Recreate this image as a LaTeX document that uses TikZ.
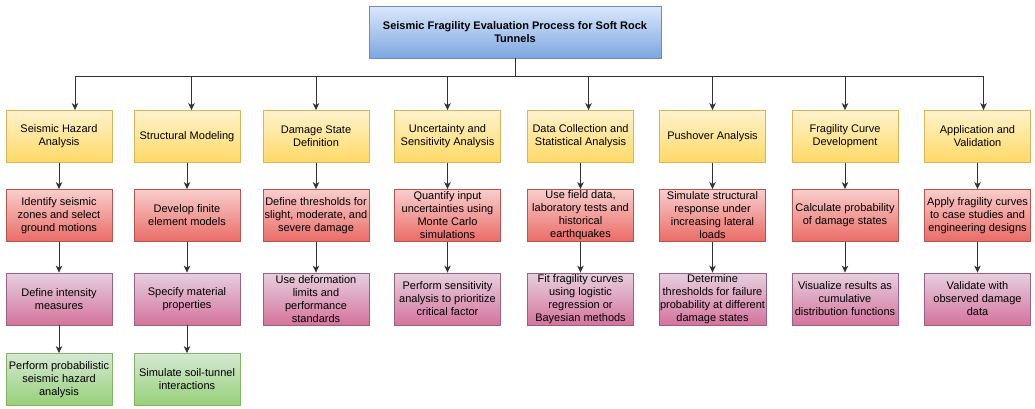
\documentclass[tikz,border=0pt]{standalone}
\usepackage{fontspec}
\setmainfont{Liberation Sans}
\usetikzlibrary{arrows.meta}
\definecolor{bTop}{HTML}{DAE8FC}\definecolor{bBot}{HTML}{7EA6E0}\definecolor{bStr}{HTML}{6C8EBF}
\definecolor{yTop}{HTML}{FFF2CC}\definecolor{yBot}{HTML}{FFD966}\definecolor{yStr}{HTML}{D6B656}
\definecolor{rTop}{HTML}{F8CECC}\definecolor{rBot}{HTML}{EA6B66}\definecolor{rStr}{HTML}{B85450}
\definecolor{pTop}{HTML}{E6D0DE}\definecolor{pBot}{HTML}{D5739D}\definecolor{pStr}{HTML}{996185}
\definecolor{gTop}{HTML}{D5E8D4}\definecolor{gBot}{HTML}{97D077}\definecolor{gStr}{HTML}{82B366}
\definecolor{lineC}{HTML}{333333}
\begin{document}
\begin{tikzpicture}[x=1pt,y=-1pt,
  font=\fontsize{11}{13}\selectfont,
  box/.style={line width=0.8pt, minimum width=106pt, minimum height=52pt, inner sep=1pt, align=center, text=black},
  ttl/.style={box, minimum width=292pt, font=\fontsize{11}{13}\selectfont\bfseries, top color=bTop, bottom color=bBot, draw=bStr},
  yel/.style={box, top color=yTop, bottom color=yBot, draw=yStr},
  red/.style={box, top color=rTop, bottom color=rBot, draw=rStr},
  pur/.style={box, top color=pTop, bottom color=pBot, draw=pStr},
  grn/.style={box, top color=gTop, bottom color=gBot, draw=gStr},
  arr/.style={draw=lineC, line width=1pt, -{Stealth[length=7pt,width=6.5pt,inset=2pt]}},
  bus/.style={draw=lineC, line width=1pt}]
\useasboundingbox (0,0) rectangle (1035,408);
\node[ttl] (t) at (515,32) {Seismic Fragility Evaluation Process for Soft Rock\\Tunnels};
% row y
\def\ya{136.5}\def\yb{215.5}\def\yc{299}\def\yd{379.5}
% column 1
\node[yel] (y1) at (59,\ya) {Seismic Hazard\\Analysis};
\node[red] (r1) at (59,\yb) {Identify seismic\\zones and select\\ground motions};
\node[pur] (p1) at (59,\yc) {Define intensity\\measures};
\node[grn] (g1) at (59,\yd) {Perform probabilistic\\seismic hazard\\analysis};
% column 2
\node[yel] (y2) at (187,\ya) {Structural Modeling};
\node[red] (r2) at (187,\yb) {Develop finite\\element models};
\node[pur] (p2) at (187,\yc) {Specify material\\properties};
\node[grn] (g2) at (187,\yd) {Simulate soil-tunnel\\interactions};
% column 3
\node[yel] (y3) at (316,\ya) {Damage State\\Definition};
\node[red] (r3) at (316,\yb) {Define thresholds for\\slight, moderate, and\\severe damage};
\node[pur] (p3) at (316,\yc) {Use deformation\\limits and\\performance\\standards};
% column 4
\node[yel] (y4) at (447.5,\ya) {Uncertainty and\\Sensitivity Analysis};
\node[red] (r4) at (447.5,\yb) {Quantify input\\uncertainties using\\Monte Carlo\\simulations};
\node[pur] (p4) at (447.5,\yc) {Perform sensitivity\\analysis to prioritize\\critical factor};
% column 5
\node[yel] (y5) at (580.5,\ya) {Data Collection and\\Statistical Analysis};
\node[red] (r5) at (580.5,\yb) {Use field data,\\laboratory tests and\\historical\\earthquakes};
\node[pur] (p5) at (580.5,\yc) {Fit fragility curves\\using logistic\\regression or\\Bayesian methods};
% column 6
\node[yel] (y6) at (712.5,\ya) {Pushover Analysis};
\node[red] (r6) at (712.5,\yb) {Simulate structural\\response under\\increasing lateral\\loads};
\node[pur] (p6) at (712.5,\yc) {Determine\\thresholds for failure\\probability at different\\damage states};
% column 7
\node[yel] (y7) at (845,\ya) {Fragility Curve\\Development};
\node[red] (r7) at (845,\yb) {Calculate probability\\of damage states};
\node[pur] (p7) at (845,\yc) {Visualize results as\\cumulative\\distribution functions};
% column 8
\node[yel] (y8) at (977.5,\ya) {Application and\\Validation};
\node[red] (r8) at (977.5,\yb) {Apply fragility curves\\to case studies and\\engineering designs};
\node[pur] (p8) at (977.5,\yc) {Validate with\\observed damage\\data};
% bus
\coordinate (b1) at (75,76);
\coordinate (b2) at (191.5,76);
\coordinate (b3) at (316,76);
\coordinate (b4) at (447.5,76);
\coordinate (b5) at (588.5,76);
\coordinate (b6) at (712.5,76);
\coordinate (b7) at (845,76);
\coordinate (b8) at (983.5,76);
\draw[bus] (t.south) -- (t.south |- b1);
\draw[bus] (b1) -- (b8);
\foreach \i in {1,...,8} {
  \draw[arr] (b\i) -- (b\i |- y\i.north);
  \draw[arr] (y\i) -- (r\i);
  \draw[arr] (r\i) -- (p\i);
}
\draw[arr] (p1) -- (g1);
\draw[arr] (p2) -- (g2);
\end{tikzpicture}
\end{document}
